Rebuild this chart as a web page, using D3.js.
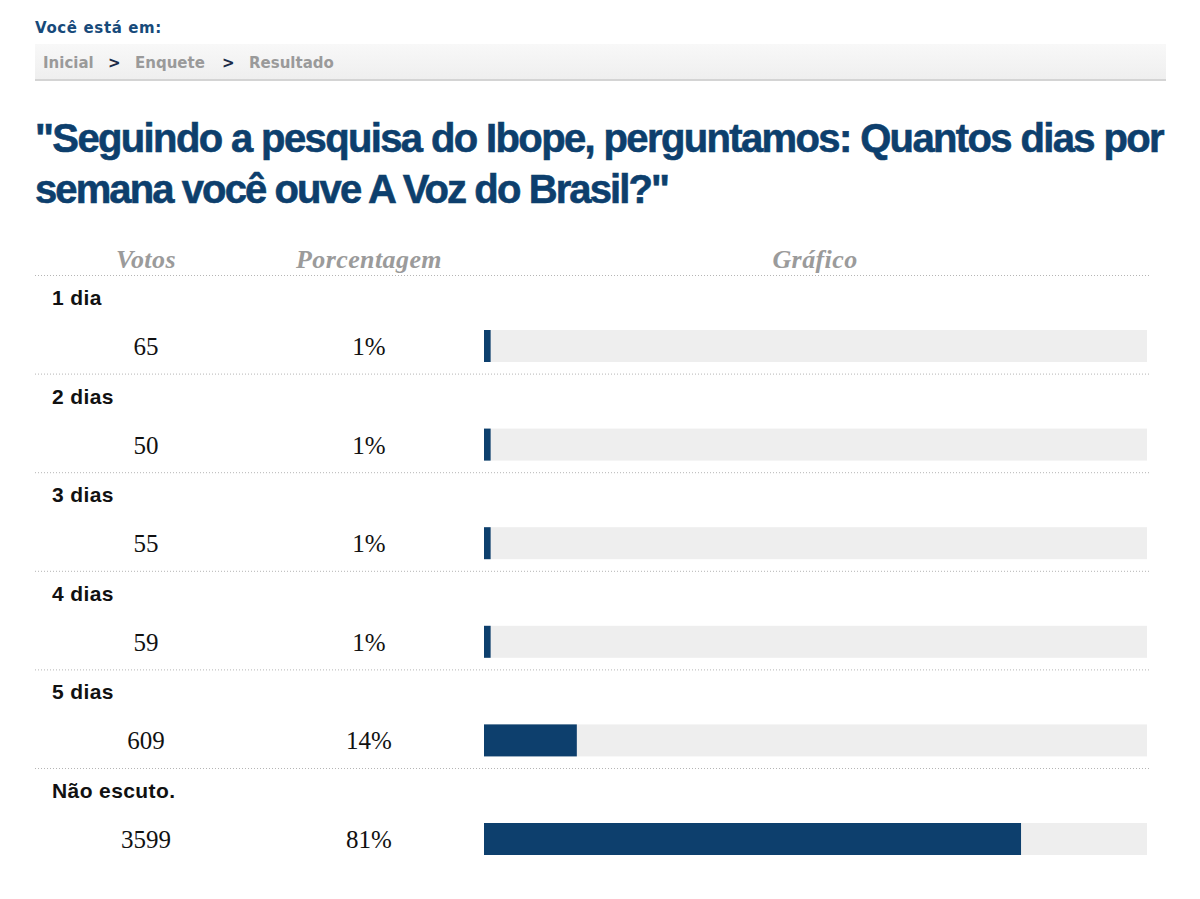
<!DOCTYPE html>
<html>
<head>
<meta charset="utf-8">
<script src="https://cdn.jsdelivr.net/npm/d3@7"></script>
<style>
  body { margin: 0; background: #fff; }
  .crumb { font-family: "DejaVu Sans", Verdana, sans-serif; font-weight: bold; font-size: 15px; }
</style>
</head>
<body>
<div id="chart"></div>
<script>
// Poll data
var categories = ["1 dia", "2 dias", "3 dias", "4 dias", "5 dias", "Não escuto."];
var votes = [65, 50, 55, 59, 609, 3599];
var percents = [1, 1, 1, 1, 14, 81];
var columns = ["Votos", "Porcentagem", "Gráfico"];
var breadcrumb = ["Inicial", "Enquete", "Resultado"];
var titleLines = ["\"Seguindo a pesquisa do Ibope, perguntamos: Quantos dias por",
                  "semana você ouve A Voz do Brasil?\""];

var svgWidth = 1200;
var svgHeight = 899;
var navy = "#0d3f6d";

var svg = d3.select("#chart")
  .append("svg")
  .attr("width", svgWidth)
  .attr("height", svgHeight);

// "Você está em:" + breadcrumb bar
svg.append("text")
  .attr("x", 35).attr("y", 33)
  .attr("fill", "#174a7a")
  .attr("font-family", "'DejaVu Sans', Verdana, sans-serif")
  .attr("font-weight", "bold")
  .attr("font-size", 15)
  .text("Você está em:")
  .each(function() {
    // squeeze to the width seen in the reference
    var natural = this.getComputedTextLength();
    d3.select(this).attr("letter-spacing", (127 - natural) / 13);
  });

var grad = svg.append("defs").append("linearGradient")
  .attr("id", "crumbBg").attr("x1", 0).attr("x2", 0).attr("y1", 0).attr("y2", 1);
grad.append("stop").attr("offset", "0%").attr("stop-color", "#f8f8f8");
grad.append("stop").attr("offset", "100%").attr("stop-color", "#efefef");

svg.append("rect")
  .attr("x", 35).attr("y", 44).attr("width", 1131).attr("height", 35)
  .attr("fill", "url(#crumbBg)");
svg.append("rect")
  .attr("x", 35).attr("y", 79).attr("width", 1131).attr("height", 2)
  .attr("fill", "#d4d4d4");

var crumbX = [43, 135, 249];
var crumbs = svg.append("text")
  .attr("class", "crumb")
  .attr("y", 68);
breadcrumb.forEach(function(c, i) {
  crumbs.append("tspan").attr("x", crumbX[i]).attr("fill", "#9a9a9a").text(c);
  if (i < breadcrumb.length - 1) {
    crumbs.append("tspan").attr("x", crumbX[i + 1] - 27).attr("fill", "#1a2b48").text(">");
  }
});

// Title - tighten letter spacing so each line fits its measured width
var titleWidths = [1128, 633];
svg.selectAll(".title")
  .data(titleLines)
  .enter()
  .append("text")
  .attr("class", "title")
  .attr("x", 35)
  .attr("y", (d, i) => 152 + i * 51)
  .attr("fill", navy)
  .attr("stroke", navy)
  .attr("stroke-width", 0.6)
  .attr("font-family", "'Liberation Sans', Arial, sans-serif")
  .attr("font-weight", "bold")
  .attr("font-size", 40)
  .text(d => d)
  .each(function(d, i) {
    var natural = this.getComputedTextLength();
    d3.select(this).attr("letter-spacing", (titleWidths[i] - natural) / d.length);
  });

// Scales
var rowY = d3.scaleBand()
  .domain(categories)
  .range([275, 275 + 98.6 * categories.length]);

var colX = d3.scaleOrdinal()
  .domain(columns)
  .range([146, 369, 815]);

var barX = d3.scaleLinear()
  .domain([0, 100])
  .range([484, 1147]);

// Column headers
svg.selectAll(".colhead")
  .data(columns)
  .enter()
  .append("text")
  .attr("class", "colhead")
  .attr("x", d => colX(d))
  .attr("y", 268)
  .attr("text-anchor", "middle")
  .attr("fill", "#9b9b9b")
  .attr("font-family", "'Liberation Serif', 'Times New Roman', serif")
  .attr("font-style", "italic")
  .attr("font-weight", "bold")
  .attr("font-size", 26)
  .attr("letter-spacing", 0.4)
  .text(d => d);

// Rows
var rows = svg.selectAll(".row")
  .data(categories)
  .enter()
  .append("g")
  .attr("class", "row")
  .attr("transform", d => `translate(0, ${rowY(d)})`);

// dotted separator above each row
rows.append("line")
  .attr("x1", 35).attr("x2", 1150)
  .attr("y1", 0.5).attr("y2", 0.5)
  .attr("stroke", "#b5b5b5")
  .attr("stroke-width", 1)
  .attr("stroke-dasharray", "1,2");

rows.append("text")
  .attr("x", 52)
  .attr("y", 30)
  .attr("fill", "#111")
  .attr("font-family", "'Liberation Sans', Arial, sans-serif")
  .attr("font-weight", "bold")
  .attr("font-size", 21)
  .attr("letter-spacing", 0.4)
  .text(d => d);

rows.append("text")
  .attr("x", colX("Votos"))
  .attr("y", 80)
  .attr("text-anchor", "middle")
  .attr("fill", "#111")
  .attr("font-family", "'Liberation Serif', 'Times New Roman', serif")
  .attr("font-size", 25)
  .text((d, i) => votes[i]);

rows.append("text")
  .attr("x", colX("Porcentagem"))
  .attr("y", 80)
  .attr("text-anchor", "middle")
  .attr("fill", "#111")
  .attr("font-family", "'Liberation Serif', 'Times New Roman', serif")
  .attr("font-size", 25)
  .text((d, i) => percents[i] + "%");

// bar track + bar
rows.append("rect")
  .attr("x", barX(0))
  .attr("y", 55)
  .attr("width", barX(100) - barX(0))
  .attr("height", 32)
  .attr("fill", "#eeeeee");

rows.append("rect")
  .attr("x", barX(0))
  .attr("y", 55)
  .attr("width", (d, i) => barX(percents[i]) - barX(0))
  .attr("height", 32)
  .attr("fill", navy);
</script>
</body>
</html>
